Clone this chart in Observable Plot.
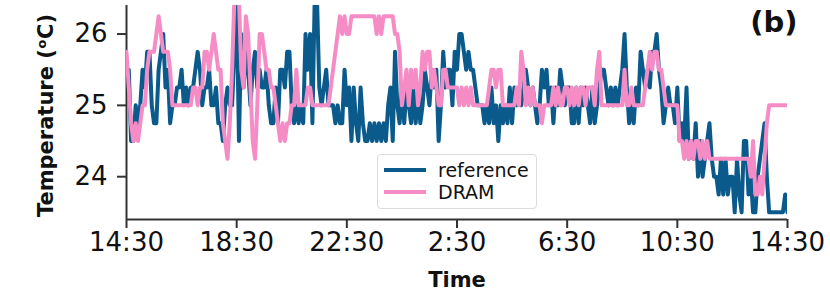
<!DOCTYPE html>
<html>
<head>
<meta charset="utf-8">
<script src="https://cdn.jsdelivr.net/npm/d3@7"></script>
<script src="https://cdn.jsdelivr.net/npm/@observablehq/plot@0.6"></script>
<style>
  html, body { margin: 0; padding: 0; background: #fff; }
  #wrap { position: relative; width: 830px; height: 292px; font-family: "DejaVu Sans", sans-serif; }
  #legend { position: absolute; left: 377px; top: 154px; width: 158px; height: 53px;
    border: 1px solid #dcdcdc; border-radius: 4px; background: rgba(255,255,255,0.85); box-sizing: content-box; }
  .item { position: absolute; left: 0; height: 22px; width: 158px; }
  .swatch { position: absolute; left: 6px; top: 9px; width: 42px; height: 4px; }
  .lab { position: absolute; left: 60px; top: 0; font-size: 19px; line-height: 22px; color: #111; }
</style>
</head>
<body>
<div id="wrap"></div>
<script>
// ---- data (5-minute samples, starting 14:30) ----
const seriesNames = ["reference", "DRAM"];
const seriesColors = ["#0b5a8c", "#f68cc6"];
const stepMinutes = 5;
const xTickLabels = ["14:30", "18:30", "22:30", "2:30", "6:30", "10:30", "14:30"];
const yTicks = [24, 25, 26];

const reference = [
  25.5,25.5,24.5,24.5,25,24.75,25,25.5,25.25,25.75,
  25.75,25,24.75,24.75,25.5,25.75,26,25.25,25.5,24.75,
  25,25,25.25,25.25,25.5,25,25.25,25,25.25,25.25,
  25.5,25.75,25.5,25,25.25,25.25,25.5,25,25,25.25,
  24.75,24.75,24.5,25,25.25,25,25,25.75,
  26.5,24.5,26,25.25,25.75,25.5,25,25.5,25.75,25.25,
  25.5,25.25,25.25,25.5,25,24.75,24.75,25.25,24.75,25.5,
  25.5,25.25,25.75,25.75,25,24.75,25,24.75,25,24.75,
  26,25.5,26,24.75,26.5,26.5,25.25,25,25.25,25.5,
  25,25,25,24.75,25,24.75,24.75,25.5,
  25,25.25,24.5,25.25,24.75,24.5,25.25,24.75,24.5,24.5,
  24.75,24.5,24.75,24.5,24.75,24.5,24.75,24.5,25,25.25,
  24.5,25.75,25,24.75,25.25,24.75,25.25,25,24.75,25.25,
  24.75,25.25,24.75,25,25.5,25.25,25,25.5,25.25,25.5,
  24.5,25,25.75,25.25,25.5,25.5,25,25.75,
  25.5,26,26,25.75,25.5,25.75,25.5,25.5,25.25,25,
  25,25,24.75,25,24.75,25.25,24.75,25,24.5,25,
  24.75,25,24.75,25.25,24.75,25.25,25,25.25,25,25.25,
  25.5,25.25,25,25.25,25,24.75,25,25.5,25.25,25.5,
  25,25.25,24.75,25.25,25,25.5,25.25,25,
  25.25,25.25,24.75,24.75,25.25,24.75,25.25,25,25.25,25,
  24.75,25.25,24.75,25,25.25,25.5,25.5,25.25,25,25.25,
  25,25.25,25,25.25,25.5,26,25.25,24.75,25,24.75,
  25.25,25,25.75,25.5,25.25,25.5,25.25,25.75,25.75,26,
  25.5,25.25,24.75,25,25.25,25,25,24.75,
  25.25,24.5,24.75,24.5,25.25,24.25,24.5,24.25,24.75,24,
  24.5,24,24.25,24.5,24.75,24.25,24,24,23.75,24.25,
  23.75,24.25,23.75,24,24,23.5,24.25,23.75,23.5,24.5,
  24.5,23.75,24,23.5,23.5,24,24.25,24.5,24.75,24,
  23.5,23.5,23.5,23.5,23.5,23.5,23.5,23.75,23.5
];

const dram = [
  25.75,25.25,24.75,24.5,24.75,24.5,24.75,25,25,25.5,
  25.75,25.75,25.75,26,26.25,26,25.75,25.75,25.75,25.5,
  25,25,25,25,25,25,25,25,25,25.25,
  25.25,25,25.25,25.25,25.75,25.75,25.5,25.75,26,25.75,
  25.5,25.5,24.75,24.5,24.25,24.75,25.5,26.5,
  26.5,26.5,25.5,25.25,26.25,26,25.25,24.5,24.25,25,
  26,26,25.75,25.5,25.5,25.25,25.25,25,24.75,24.5,
  24.75,24.5,24.75,24.75,25,25,25.5,25,25,25,
  25,25.25,25.25,25,25,25,25,25,25,25,
  25,25.25,25.5,25.75,26,26.25,26,26.25,
  26,26,26.25,26.25,26.25,26.25,26.25,26.25,26.25,26.25,
  26.25,26.25,26.25,26,26.25,26,26.25,26.25,26.25,26.25,
  26.25,26,26,25.75,25,25.25,25.5,25,25.5,25.25,
  25.5,25,25.25,25.75,25.5,25.75,25.75,25.25,25.5,25.25,
  25,25,25.5,25.5,25.25,25.25,25.25,25.25,
  25.25,25,25.25,25,25.25,25,25.25,25,25,25,
  25,25,25,25,25.25,25.5,25.5,25.25,25.5,25.5,
  25,25,25,25,25,25,25.25,25,25.75,25.5,
  25,25.25,25,25.25,25,25,25,24.75,25,25,
  25,25,25.25,25,25.25,25,25,25.25,
  25.25,25,25.25,25,25.25,25,25.25,25.25,25,25.25,
  25.25,25.25,25,25.5,25.75,25,25,25,25,25,
  25,25,25,25,25,25.5,25,25,25.25,25,
  25,25,25,25,25.25,25.5,25.75,25.5,25.75,25.75,
  25.5,25.5,25.25,25,25,25,25,25,
  25,24.5,24.5,24.25,24.5,24.25,24.5,24.25,24.5,24.5,
  24.25,24.5,24.25,24.5,24.25,24.25,24.25,24.25,24.25,24.25,
  24.25,24.25,24.25,24.25,24.25,24.25,24.25,24.25,24.25,24.25,
  24.25,24.25,24,24.5,23.75,23.75,24,23.75,24.25,24.75,
  25,25,25,25,25,25,25,25,25
];

// ---- build ----
const start = new Date(2020, 0, 1, 14, 30);
const end = new Date(+start + 24 * 3600e3);
const toRows = (vals) => vals.map((v, i) => ({time: new Date(+start + i * stepMinutes * 60e3), value: v}));
const refRows = toRows(reference);
const dramRows = toRows(dram);
const tickDates = xTickLabels.map((_, i) => new Date(+start + i * 4 * 3600e3));

const chart = Plot.plot({
  width: 830,
  height: 292,
  marginLeft: 126,
  marginRight: 43,
  marginTop: 5,
  marginBottom: 73,
  style: {fontFamily: "'DejaVu Sans', sans-serif", background: "white", color: "#111", overflow: "visible"},
  x: {type: "time", domain: [start, end]},
  y: {domain: [23.4, 26.4]},
  marks: [
    Plot.axisX({
      ticks: tickDates,
      tickFormat: d => xTickLabels[tickDates.findIndex(t => +t === +d)],
      tickSize: 9, tickPadding: 4, fontSize: 26, label: null,
      stroke: "#333", strokeWidth: 2, fill: "#111"
    }),
    Plot.axisY({
      ticks: yTicks,
      tickFormat: d => String(d),
      tickSize: 9, tickPadding: 10, fontSize: 26, label: null,
      stroke: "#333", strokeWidth: 2, fill: "#111"
    }),
    Plot.ruleY([23.4], {stroke: "#333", strokeWidth: 2}),
    Plot.ruleX([start], {stroke: "#333", strokeWidth: 2}),
    Plot.line(refRows, {x: "time", y: "value", stroke: seriesColors[0], strokeWidth: 4, strokeLinejoin: "round", clip: true}),
    Plot.line(dramRows, {x: "time", y: "value", stroke: seriesColors[1], strokeWidth: 4, strokeLinejoin: "round", clip: true}),
    Plot.text(["Time"], {frameAnchor: "bottom", dy: 61, textAnchor: "middle", lineAnchor: "middle", fontWeight: "bold", fontSize: 21, fill: "#111"}),
    Plot.text(["Temperature (ᵒC)"], {frameAnchor: "left", dx: -80, dy: 3, rotate: -90, textAnchor: "middle", lineAnchor: "middle", fontWeight: "bold", fontSize: 21, fill: "#111"}),
    Plot.text(["(b)"], {frameAnchor: "top-right", dx: 10, dy: 17, textAnchor: "end", lineAnchor: "middle", fontWeight: "bold", fontSize: 29, fill: "#111"})
  ]
});

const wrap = document.getElementById("wrap");
wrap.appendChild(chart);

// legend overlay
const legend = document.createElement("div");
legend.id = "legend";
seriesNames.forEach((name, i) => {
  const item = document.createElement("div");
  item.className = "item";
  item.style.top = (4 + i * 22) + "px";
  const sw = document.createElement("div");
  sw.className = "swatch";
  sw.style.background = seriesColors[i];
  const lab = document.createElement("div");
  lab.className = "lab";
  lab.textContent = name;
  item.appendChild(sw);
  item.appendChild(lab);
  legend.appendChild(item);
});
wrap.appendChild(legend);
</script>
</body>
</html>
